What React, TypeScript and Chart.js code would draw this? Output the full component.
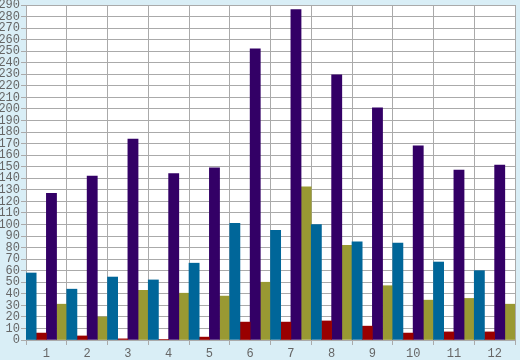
import React, { useEffect, useRef } from "react";
import { Chart, registerables } from "chart.js";

Chart.register(...registerables);

const categories = ["1", "2", "3", "4", "5", "6", "7", "8", "9", "10", "11", "12"];
const blueValues = [58, 44, 54.5, 52, 66.5, 101, 95, 100, 85, 84, 67.5, 60];
const redValues = [6, 3.5, 1, 0.5, 2.5, 15.5, 15.5, 16.5, 12, 6, 7, 7];
const purpleValues = [127, 142, 174, 144, 149, 252, 286, 229.5, 201, 168, 147, 151.5];
const oliveValues = [31, 20, 43, 40.5, 38, 50, 132.5, 82, 47, 34.5, 36, 31];
const yMin = 0;
const yMax = 290;
const yStep = 10;

const BG = "#d9eef6";
const GRID = "#aaaaaa";
const TEXT = "#666666";
const FONT = { family: "'Liberation Mono', 'DejaVu Sans Mono', monospace", size: 12 };

const bgPlugin = {
  id: "bgPlugin",
  beforeDraw(chart: any) {
    const { ctx, chartArea, width, height } = chart;
    ctx.save();
    ctx.fillStyle = BG;
    ctx.fillRect(0, 0, width, height);
    ctx.fillStyle = "#ffffff";
    ctx.fillRect(chartArea.left, chartArea.top, chartArea.right - chartArea.left, chartArea.bottom - chartArea.top);
    ctx.restore();
  },
};

export default function App() {
  const ref = useRef<HTMLCanvasElement>(null);
  useEffect(() => {
    if (!ref.current) return;
    const mk = (data: number[], color: string) => ({
      data,
      backgroundColor: color,
      borderWidth: 0,
      categoryPercentage: 1,
      barPercentage: 1,
    });
    const chart = new Chart(ref.current, {
      type: "bar",
      data: {
        labels: categories,
        datasets: [
          mk(blueValues, "#006699"),
          mk(redValues, "#990000"),
          mk(purpleValues, "#330066"),
          mk(oliveValues, "#999933"),
        ],
      },
      options: {
        responsive: false,
        animation: false,
        devicePixelRatio: 1,
        layout: { padding: { top: 5, right: 5, left: 0, bottom: 0 } },
        plugins: { legend: { display: false }, tooltip: { enabled: false } },
        scales: {
          x: {
            grid: { color: GRID, lineWidth: 1, tickLength: 5, offset: true, drawTicks: true },
            border: { color: GRID },
            ticks: { color: TEXT, font: FONT, padding: 2, maxRotation: 0, autoSkip: false },
            afterFit: (s: any) => {
              s.height = 20;
              s.paddingLeft = 0;
              s.paddingRight = 0;
            },
          },
          y: {
            min: yMin,
            max: yMax,
            grid: { color: GRID, lineWidth: 1, tickLength: 5, drawTicks: true },
            border: { color: GRID },
            ticks: { stepSize: yStep, color: TEXT, font: FONT, padding: 1, autoSkip: false },
            afterFit: (s: any) => {
              s.width = 26;
              s.paddingTop = 0;
              s.paddingBottom = 0;
            },
          },
        },
      },
      plugins: [bgPlugin],
    });
    return () => chart.destroy();
  }, []);
  return (
    <div style={{ position: "fixed", left: 0, top: 0, width: 520, height: 360, background: BG }}>
      <canvas ref={ref} width={520} height={360} style={{ display: "block" }} />
    </div>
  );
}
